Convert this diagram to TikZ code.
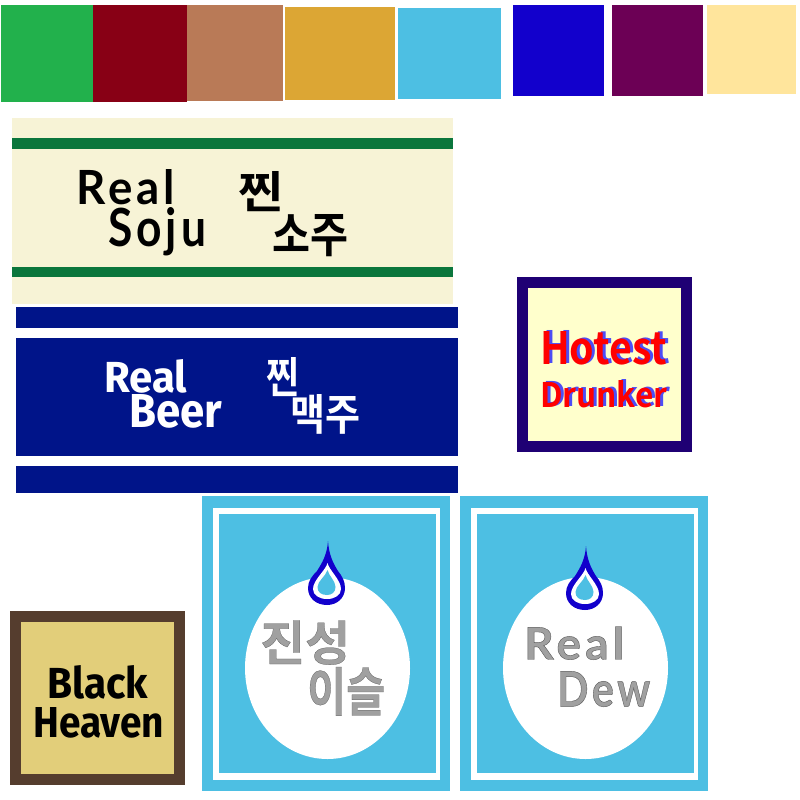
\documentclass[tikz,border=0pt]{standalone}
\usepackage{fontspec}
\usepackage{graphicx}
\setmainfont{Noto Sans CJK KR}
\newfontfamily\krbold{Noto Sans CJK KR Bold}
\newfontfamily\hand{Lato}[LetterSpace=9]
\newfontfamily\handout{Lato}[FakeBold=0.9,LetterSpace=9]
\newfontfamily\krout{Noto Sans CJK KR Bold}[FakeBold=0.5]
\newfontfamily\din{Fira Sans}
\definecolor{cGreen}{HTML}{22B14C}
\definecolor{cRed}{HTML}{880015}
\definecolor{cBrown}{HTML}{B97A57}
\definecolor{cGold}{HTML}{DCA634}
\definecolor{cSky}{HTML}{4DBFE3}
\definecolor{cBlue}{HTML}{1200CC}
\definecolor{cPurple}{HTML}{6C0055}
\definecolor{cCream}{HTML}{FFE59C}
\definecolor{cPaper}{HTML}{F7F3D6}
\definecolor{cBand}{HTML}{0B763C}
\definecolor{cNavy}{HTML}{001489}
\definecolor{cIndigo}{HTML}{1F0074}
\definecolor{cLemon}{HTML}{FFFFCC}
\definecolor{cUmber}{HTML}{553D2E}
\definecolor{cSand}{HTML}{E2CE7A}
\definecolor{cShade}{HTML}{4D4DF5}
\definecolor{cStone}{HTML}{A0A0A0}
% ink box given as x1 y1 x2 y2
\newcommand\putfit[7]{\node[inner sep=0pt,anchor=south west,text=#6] (#1) at (#2,#5)
  {\resizebox{\dimexpr#4pt-#2pt\relax}{\dimexpr#5pt-#3pt\relax}{#7}};}
\newcommand\outl{\special{pdf:code 0.35 G}}
\newcommand\dropshape[2]{%
  \begin{scope}[shift={(#1,#2)}]
    \fill[cBlue] (328,541) .. controls (329,555) and (333,563) .. (338,571)
      .. controls (342,576) and (345,581) .. (345,588)
      .. controls (345,598) and (337,605) .. (327,605)
      .. controls (316,605) and (308,598) .. (308,588)
      .. controls (308,581) and (312,576) .. (317,571)
      .. controls (322,563) and (327,555) .. (328,541) -- cycle;
    \fill[white] (327.5,563) .. controls (329,570) and (341,580) .. (341,589)
      .. controls (341,595) and (335,599) .. (327,599)
      .. controls (319,599) and (313,595) .. (313,589)
      .. controls (313,580) and (326,570) .. (327.5,563) -- cycle;
    \fill[cSky] (327.5,570) .. controls (329,576) and (335.5,581) .. (335.5,587)
      .. controls (335.5,592) and (332,595) .. (327,595)
      .. controls (321,595) and (317.5,592) .. (317.5,587)
      .. controls (317.5,581) and (326,576) .. (327.5,570) -- cycle;
  \end{scope}}
\newcommand\bottlelabel[1]{%
  \begin{scope}[shift={(#1,0)}]
    \fill[cSky] (202,496) rectangle (449.5,791);
    \fill[white] (213,508) rectangle (440,780);
    \fill[cSky] (219,514) rectangle (436,773);
    \fill[white] (327.5,668) ellipse [x radius=82.5,y radius=91];
  \end{scope}}
\begin{document}
\begin{tikzpicture}[x=1pt,y=-1pt]
\useasboundingbox (0,0) rectangle (800,800);
\fill[white] (0,0) rectangle (800,800);
% swatches
\fill[cGreen] (0.5,5) rectangle (93,102);
\fill[cRed] (93,5) rectangle (186.5,102);
\fill[cBrown] (186.5,5) rectangle (282.5,101);
\fill[cGold] (285,7) rectangle (395,100);
\fill[cSky] (398,8) rectangle (501,99);
\fill[cBlue] (513,5) rectangle (604,96);
\fill[cPurple] (612,5) rectangle (703,96);
\fill[cCream] (707,5) rectangle (796,94);
% soju
\fill[cPaper] (11.5,118) rectangle (453,304);
\fill[cBand] (11.5,138) rectangle (453,148.5);
\fill[cBand] (11.5,267) rectangle (453,277);
\putfit{sojuRealEn}{76}{170}{175}{205}{black}{\hand\bfseries Real}
\putfit{sojuEn}{108}{217}{206}{256}{black}{\hand\bfseries Soju}
\putfit{sojuRealKr}{238}{175}{283}{212}{black}{\krbold 찐}
\putfit{sojuKr}{272}{219}{348}{257}{black}{\krbold 소주}
% beer
\fill[cNavy] (15.5,307) rectangle (457.5,327.5);
\fill[cNavy] (15.5,337.5) rectangle (457.5,456);
\fill[cNavy] (15.5,466) rectangle (457.5,493);
\putfit{beerRealEn}{104}{360}{187}{393}{white}{\din\bfseries Real}
\putfit{beerEn}{129}{396}{222}{429}{white}{\din\bfseries Beer}
\putfit{beerRealKr}{266}{361}{299}{397}{white}{\krbold 찐}
\putfit{beerKr}{290}{399}{360}{435}{white}{\krbold 맥주}
% hotest
\fill[cIndigo] (517,277) rectangle (691.5,451.5);
\fill[cLemon] (527.5,287.5) rectangle (680.5,441);
\putfit{hotShade}{543}{331}{670}{364}{cShade}{\krbold Hotest}
\putfit{drunkShade}{543}{380}{670}{407}{cShade}{\krbold Drunker}
\putfit{hot}{540}{332}{667}{365}{red}{\krbold Hotest}
\putfit{drunk}{540}{381}{667}{408}{red}{\krbold Drunker}
% black heaven
\fill[cUmber] (10,610.5) rectangle (184.5,785);
\fill[cSand] (21,621.5) rectangle (173.5,774);
\putfit{black}{47}{666}{148}{699}{black}{\din\bfseries Black}
\putfit{heaven}{33}{708}{164}{738}{black}{\din\bfseries Heaven}
% bottle labels
\bottlelabel{0}
\dropshape{0}{0}
\putfit{jinseong}{260}{625}{350}{665}{cStone}{\krout\outl 진성}
\putfit{iseul}{307}{672}{385}{716}{cStone}{\krout\outl 이슬}
\bottlelabel{258}
\dropshape{258}{5}
\putfit{dewReal}{524}{627}{624}{660}{cStone}{\handout\bfseries\outl Real}
\putfit{dew}{557}{672}{650}{707}{cStone}{\handout\bfseries\outl Dew}
\end{tikzpicture}
\end{document}
